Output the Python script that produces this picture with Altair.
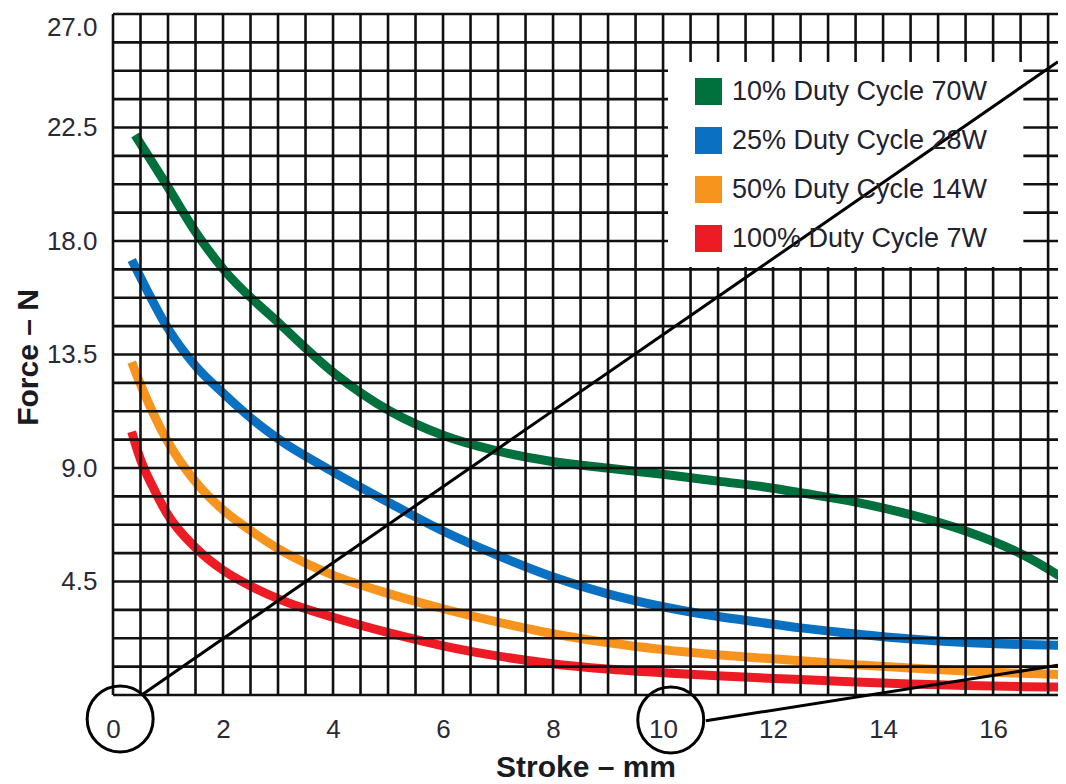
import altair as alt
import pandas as pd

FONT = "Liberation Sans"

series_names = ["10% Duty Cycle 70W", "25% Duty Cycle 28W", "50% Duty Cycle 14W", "100% Duty Cycle 7W"]
series_colors = ["#00703c", "#0a70c2", "#f7941d", "#ed1c24"]

green_x = [0.40, 0.98, 1.52, 2.00, 3.04, 4.00, 5.04, 6.00, 6.98, 7.95, 8.98, 10.00, 11.00, 12.00, 12.50, 13.50, 14.50, 15.50, 16.55, 17.33]
green_y = [22.2, 20.2, 18.3, 16.9, 14.7, 12.8, 11.25, 10.3, 9.68, 9.27, 9.00, 8.75, 8.48, 8.20, 8.02, 7.65, 7.15, 6.50, 5.55, 4.56]

blue_x = [0.34, 0.49, 0.98, 1.52, 2.00, 2.55, 3.04, 4.00, 5.04, 6.00, 6.98, 7.95, 8.98, 10.00, 10.98, 11.76, 12.50, 13.50, 14.50, 15.50, 16.55, 17.33]
blue_y = [17.25, 16.6, 14.6, 13.0, 11.97, 10.9, 10.1, 8.85, 7.6, 6.5, 5.55, 4.72, 4.02, 3.5, 3.12, 2.88, 2.66, 2.42, 2.22, 2.08, 2.00, 1.97]

orange_x = [0.34, 0.49, 0.98, 1.52, 2.00, 2.49, 3.04, 4.00, 5.04, 6.00, 6.98, 7.95, 8.98, 10.00, 10.98, 11.76, 12.50, 13.50, 14.50, 15.50, 16.55, 17.33]
orange_y = [13.2, 12.37, 10.1, 8.4, 7.34, 6.54, 5.75, 4.75, 4.0, 3.42, 2.9, 2.45, 2.08, 1.8, 1.6, 1.47, 1.36, 1.2, 1.07, 0.95, 0.86, 0.8]

red_x = [0.34, 0.49, 0.76, 0.98, 1.52, 2.00, 2.49, 3.04, 4.00, 5.04, 6.00, 6.98, 7.95, 8.98, 10.00, 10.98, 11.76, 12.50, 13.50, 14.50, 15.50, 16.55, 17.33]
red_y = [10.44, 9.4, 8.1, 7.2, 5.8, 4.95, 4.33, 3.78, 3.08, 2.45, 1.95, 1.55, 1.25, 1.03, 0.88, 0.76, 0.68, 0.61, 0.52, 0.44, 0.38, 0.33, 0.31]

x_label_values = [0, 2, 4, 6, 8, 10, 12, 14, 16]
y_label_values = [4.5, 9.0, 13.5, 18.0, 22.5, 27.0]
x_grid = [i * 0.5 for i in range(35)]
y_grid = [i * 1.125 for i in range(25)]

# annotation marks (data units)
circle_x = [0.13, 10.14]
circle_y = [-0.95, -0.99]
line_x1 = [0.52, 10.78]
line_y1 = [0.0, -1.02]
line_x2 = [17.18, 17.18]
line_y2 = [25.11, 1.18]
legend_box = {"x1": [10.09], "x2": [16.55], "y1": [16.97], "y2": [25.1]}

rows = []
for name, xs, ys in zip(series_names,
                        [green_x, blue_x, orange_x, red_x],
                        [green_y, blue_y, orange_y, red_y]):
    for i, (x, y) in enumerate(zip(xs, ys)):
        rows.append({"series": name, "stroke": x, "force": y, "i": i})
df = pd.DataFrame(rows)

XD = [0, 17.18]
YD = [0, 27]

xscale = alt.Scale(domain=XD, nice=False, zero=False)
yscale = alt.Scale(domain=YD, nice=False, zero=False)
cscale = alt.Scale(domain=series_names, range=series_colors)

x_axis = alt.Axis(values=x_label_values, grid=False, domain=False, ticks=False, tickSize=0,
                  labelFontSize=26, labelFont=FONT, labelColor="#2a2a35", labelPadding=21,
                  labelFlush=False, labelOverlap=False,
                  title="Stroke – mm", titleFont=FONT, titleFontSize=30, titleFontWeight="bold",
                  titleColor="#1a1a22", titleY=57)
y_axis = alt.Axis(values=y_label_values, grid=False, domain=False, ticks=False, tickSize=0,
                  labelFontSize=26, labelFont=FONT, labelColor="#2a2a35", labelPadding=16,
                  labelFlush=8, labelOverlap=False,
                  labelExpr="format(datum.value, '.1f')",
                  title="Force – N", titleFont=FONT, titleFontSize=30, titleFontWeight="bold",
                  titleColor="#1a1a22", titleX=-70, titleY=343)


def X(field):
    return alt.X(field, type="quantitative", scale=xscale, axis=x_axis, title="Stroke – mm")


def Y(field):
    return alt.Y(field, type="quantitative", scale=yscale, axis=y_axis, title="Force – N")


curves = alt.Chart(df).mark_line(strokeWidth=9, interpolate="monotone", strokeCap="butt", clip=True).encode(
    x=X("stroke"),
    y=Y("force"),
    color=alt.Color("series:N", scale=cscale, legend=None),
    order="i:Q",
)

legend_layer = alt.Chart(df).transform_filter("false").mark_square(filled=True, size=729, opacity=1).encode(
    x=X("stroke"),
    y=Y("force"),
    color=alt.Color("series:N", scale=cscale,
                    legend=alt.Legend(orient="none", legendX=582, legendY=64, title=None,
                                      symbolType="square", symbolSize=729, symbolStrokeWidth=0,
                                      symbolOpacity=1,
                                      labelFontSize=27, labelFont=FONT, labelColor="#222230",
                                      labelLimit=400, labelOffset=10, rowPadding=21, padding=0)),
)

vgrid = alt.Chart(pd.DataFrame({"gx": x_grid})).mark_rule(color="#111111", strokeWidth=2.6).encode(
    x=X("gx")
)
hgrid = alt.Chart(pd.DataFrame({"gy": y_grid})).mark_rule(color="#111111", strokeWidth=2.6).encode(
    y=Y("gy")
)

box = alt.Chart(pd.DataFrame(legend_box)).mark_rect(color="white").encode(
    x=X("x1"), x2="x2:Q",
    y=Y("y1"), y2="y2:Q",
)

ann_lines = alt.Chart(pd.DataFrame({"x1": line_x1, "y1": line_y1, "x2": line_x2, "y2": line_y2})).mark_rule(
    color="black", strokeWidth=3).encode(
    x=X("x1"), x2="x2:Q",
    y=Y("y1"), y2="y2:Q",
)

ann_circles = alt.Chart(pd.DataFrame({"cx": circle_x, "cy": circle_y})).mark_point(
    shape="circle", filled=False, color="black", strokeWidth=3, size=4356, opacity=1).encode(
    x=X("cx"),
    y=Y("cy"),
)

chart = alt.layer(curves, vgrid, hgrid, box, ann_lines, ann_circles, legend_layer).properties(
    width=945, height=681,
    autosize=alt.AutoSizeParams(type="none"),
    padding={"left": 105, "top": 6, "right": 0, "bottom": 89},
    background="white",
).resolve_legend(color="independent").configure_view(stroke=None)

chart.save("out.html", embed_options={"renderer": "svg", "actions": False})
